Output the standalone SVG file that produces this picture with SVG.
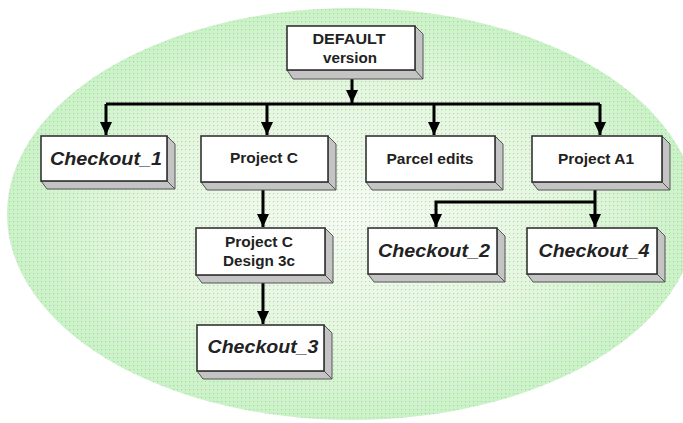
<svg xmlns="http://www.w3.org/2000/svg" width="683" height="423" viewBox="0 0 683 423">
<style>
.front{fill:#ffffff;stroke:#333333;stroke-width:1.6}
.side{fill:#c4c4c4;stroke:#555555;stroke-width:1}
.t{font-family:"Liberation Sans",Arial,sans-serif;font-weight:bold;fill:#222222;text-anchor:middle}
.n{font-size:14px}
.i{font-size:18px;font-style:italic}
.c{fill:none;stroke:#000000;stroke-width:3}
</style>
<defs>
<radialGradient id="bg" cx="0.5" cy="0.5" r="0.5">
<stop offset="0" stop-color="#f4fcf0"/>
<stop offset="0.6" stop-color="#e2f8dc"/>
<stop offset="1" stop-color="#c8f4c4"/>
</radialGradient>
<pattern id="dots" width="4" height="4" patternUnits="userSpaceOnUse">
<rect x="1" y="1" width="1.2" height="1.2" fill="#c0b0c4" opacity="0.7"/>
</pattern>
<marker id="ah" markerUnits="userSpaceOnUse" markerWidth="14" markerHeight="12" refX="13" refY="6" orient="auto">
<path d="M0,0 L13,6 L0,12 Z" fill="#000000"/>
</marker>
</defs>
<ellipse cx="352" cy="214" rx="345" ry="206" fill="url(#bg)"/>
<ellipse cx="352" cy="214" rx="345" ry="206" fill="url(#dots)"/>

<g id="connectors">
<path class="c" d="M352,79 V103" marker-end="url(#ah)"/>
<path class="c" d="M106,104 H600"/>
<path class="c" d="M106,104 V135" marker-end="url(#ah)"/>
<path class="c" d="M267,104 V135" marker-end="url(#ah)"/>
<path class="c" d="M434,104 V135" marker-end="url(#ah)"/>
<path class="c" d="M600,104 V135" marker-end="url(#ah)"/>
<path class="c" d="M263,189 V227" marker-end="url(#ah)"/>
<path class="c" d="M263,283 V324" marker-end="url(#ah)"/>
<path class="c" d="M595,190 V227" marker-end="url(#ah)"/>
<path class="c" d="M595,202 H436 V227" marker-end="url(#ah)"/>
</g>

<g id="default">
<polygon class="side" points="415,26 423,34 423,79 415,71"/>
<polygon class="side" points="287,70 415,70 423,79 293,79"/>
<rect class="front" x="287" y="26" width="128" height="44"/>
<text class="t" x="349" y="44" font-size="15" textLength="73" lengthAdjust="spacingAndGlyphs">DEFAULT</text>
<text class="t n" x="350" y="63" textLength="54" lengthAdjust="spacingAndGlyphs">version</text>
</g>

<g id="checkout1">
<polygon class="side" points="167,136 175,144 175,189 167,181"/>
<polygon class="side" points="41,181 167,181 175,189 47,189"/>
<rect class="front" x="41" y="136" width="126" height="45"/>
<text class="t i" x="106" y="165" textLength="112" lengthAdjust="spacingAndGlyphs">Checkout_1</text>
</g>

<g id="projectC">
<polygon class="side" points="328,136 336,144 336,190 328,182"/>
<polygon class="side" points="201,182 328,182 336,190 207,190"/>
<rect class="front" x="201" y="136" width="127" height="46"/>
<text class="t n" x="264" y="163" textLength="68" lengthAdjust="spacingAndGlyphs">Project C</text>
</g>

<g id="parcel">
<polygon class="side" points="495,136 503,144 503,190 495,182"/>
<polygon class="side" points="366,182 495,182 503,190 372,190"/>
<rect class="front" x="366" y="136" width="129" height="46"/>
<text class="t n" x="430" y="164" textLength="87" lengthAdjust="spacingAndGlyphs">Parcel edits</text>
</g>

<g id="projectA1">
<polygon class="side" points="662,136 670,144 670,190 662,182"/>
<polygon class="side" points="532,182 662,182 670,190 538,190"/>
<rect class="front" x="532" y="136" width="130" height="46"/>
<text class="t n" x="596" y="164" textLength="76" lengthAdjust="spacingAndGlyphs">Project A1</text>
</g>

<g id="design3c">
<polygon class="side" points="325,228 333,236 333,283 325,275"/>
<polygon class="side" points="196,275 325,275 333,283 202,283"/>
<rect class="front" x="196" y="228" width="129" height="47"/>
<text class="t n" x="259" y="247" textLength="68" lengthAdjust="spacingAndGlyphs">Project C</text>
<text class="t n" x="259" y="266" textLength="72" lengthAdjust="spacingAndGlyphs">Design 3c</text>
</g>

<g id="checkout2">
<polygon class="side" points="497,228 505,236 505,282 497,274"/>
<polygon class="side" points="368,274 497,274 505,282 374,282"/>
<rect class="front" x="368" y="228" width="129" height="46"/>
<text class="t i" x="434" y="257" textLength="112" lengthAdjust="spacingAndGlyphs">Checkout_2</text>
</g>

<g id="checkout4">
<polygon class="side" points="657,228 665,236 665,282 657,274"/>
<polygon class="side" points="527,274 657,274 665,282 533,282"/>
<rect class="front" x="527" y="228" width="130" height="46"/>
<text class="t i" x="594" y="257" textLength="111" lengthAdjust="spacingAndGlyphs">Checkout_4</text>
</g>

<g id="checkout3">
<polygon class="side" points="324,325 332,333 332,379 324,371"/>
<polygon class="side" points="197,371 324,371 332,379 203,379"/>
<rect class="front" x="197" y="325" width="127" height="46"/>
<text class="t i" x="263" y="353" textLength="111" lengthAdjust="spacingAndGlyphs">Checkout_3</text>
</g>
</svg>
